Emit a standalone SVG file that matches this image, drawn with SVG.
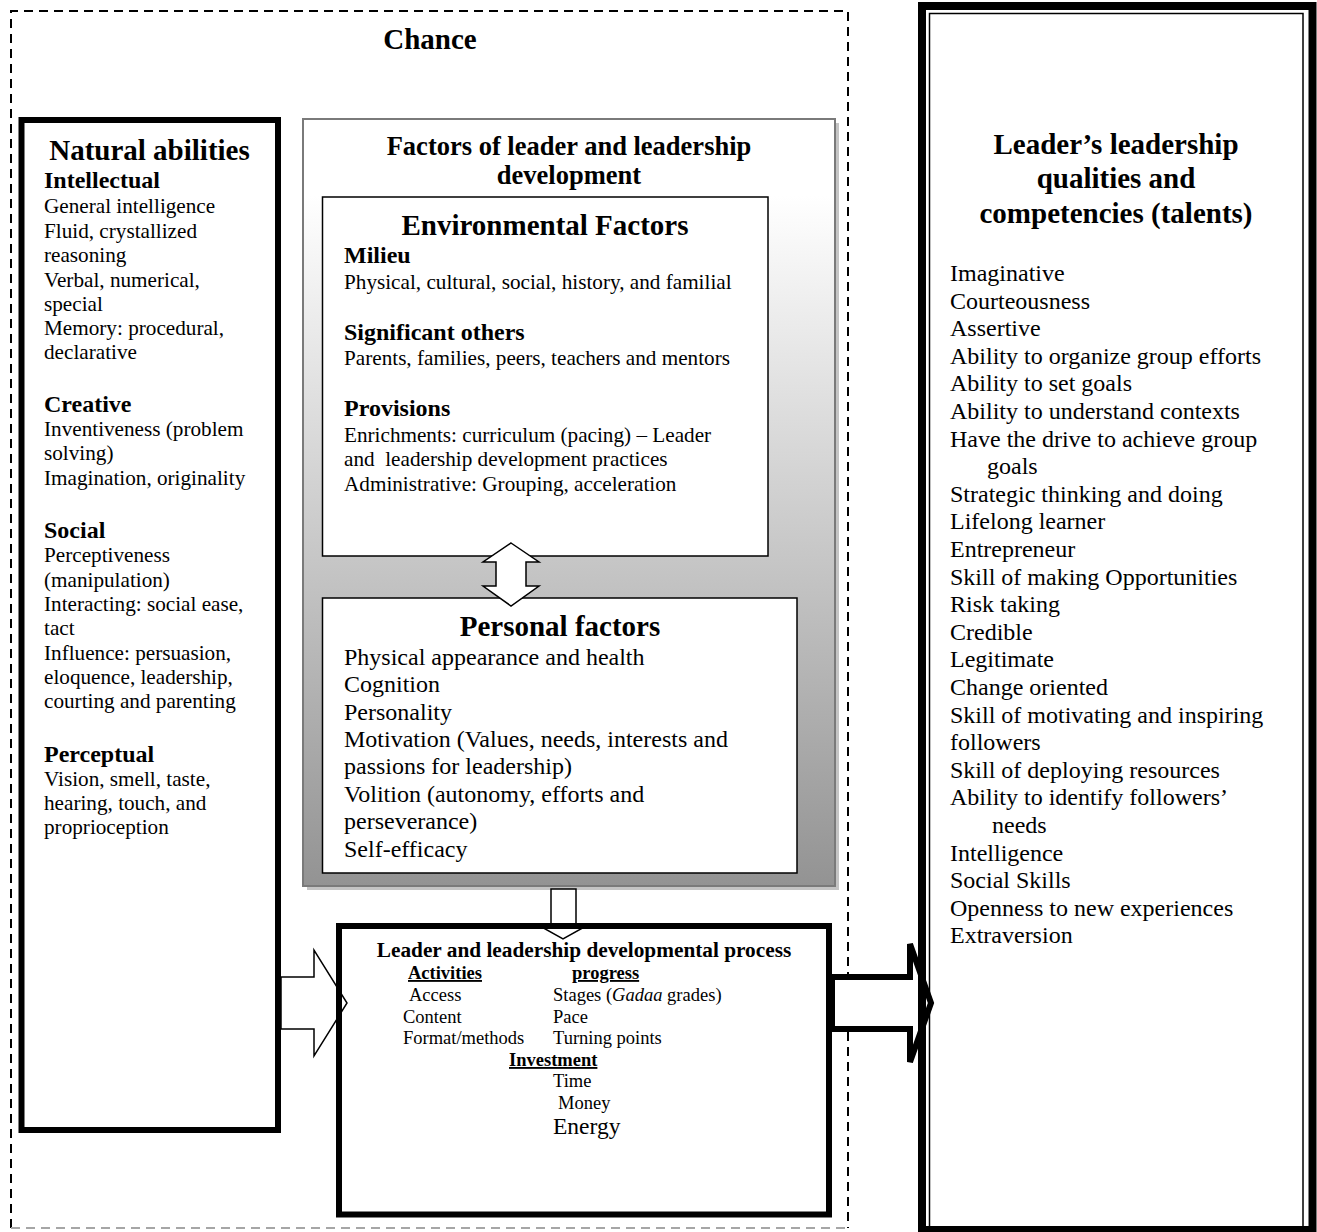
<svg xmlns="http://www.w3.org/2000/svg" width="1317" height="1232" viewBox="0 0 1317 1232">
<style>
text{font-family:"Liberation Serif","Times New Roman",serif;fill:#000}
.h{font-size:29px;font-weight:bold}
.ft{font-size:26.5px;font-weight:bold}
.s{font-size:24px;font-weight:bold}
.n{font-size:21.2px}
.l{font-size:24px}
.pt{font-size:21.3px;font-weight:bold}
.pb{font-size:18.5px;font-weight:bold;text-decoration:underline}
.p{font-size:18.5px}
.c{text-anchor:middle}
.arrow{fill:#fff;stroke:#000;stroke-width:1.5;stroke-linejoin:miter}
</style>
<defs>
<linearGradient id="grad" x1="0" y1="0" x2="0" y2="1">
<stop offset="0" stop-color="#ffffff"/>
<stop offset="0.1" stop-color="#ffffff"/>
<stop offset="1" stop-color="#939393"/>
</linearGradient>
</defs>
<rect width="1317" height="1232" fill="#fff"/>

<g id="chance">
<path d="M11,1228 V11 H848 V1228" fill="none" stroke="#000" stroke-width="2" stroke-dasharray="9 6"/>
<line x1="11" y1="1228" x2="848" y2="1228" stroke="#a6a6a6" stroke-width="2" stroke-dasharray="9 6"/>
<text class="h c" x="430" y="49">Chance</text>
</g>

<g id="factors">
<rect x="307" y="123" width="532" height="767" fill="#c4c4c4"/>
<rect x="303" y="119" width="532" height="767" fill="url(#grad)" stroke="#7a7a7a" stroke-width="2"/>
<text class="ft c" x="569" y="155">Factors of leader and leadership</text>
<text class="ft c" x="569" y="184">development</text>
</g>

<g id="environmental">
<rect x="322.5" y="197" width="445.5" height="359" fill="#fff" stroke="#000" stroke-width="1.5"/>
<text class="h c" x="545" y="235">Environmental Factors</text>
<text class="s" x="344" y="263">Milieu</text>
<text class="n" x="344" y="289">Physical, cultural, social, history, and familial</text>
<text class="s" x="344" y="340">Significant others</text>
<text class="n" x="344" y="365">Parents, families, peers, teachers and mentors</text>
<text class="s" x="344" y="416">Provisions</text>
<text class="n" x="344" y="442">Enrichments: curriculum (pacing) – Leader</text>
<text class="n" x="344" y="466" xml:space="preserve">and  leadership development practices</text>
<text class="n" x="344" y="491">Administrative: Grouping, acceleration</text>
</g>

<g id="personal">
<rect x="322.5" y="598" width="474.5" height="275" fill="#fff" stroke="#000" stroke-width="1.5"/>
<text class="h c" x="560" y="636">Personal factors</text>
<text class="l" x="344" y="665">Physical appearance and health</text>
<text class="l" x="344" y="692">Cognition</text>
<text class="l" x="344" y="720">Personality</text>
<text class="l" x="344" y="747">Motivation (Values, needs, interests and</text>
<text class="l" x="344" y="774">passions for leadership)</text>
<text class="l" x="344" y="802">Volition (autonomy, efforts and</text>
<text class="l" x="344" y="829">perseverance)</text>
<text class="l" x="344" y="857">Self-efficacy</text>
</g>

<g id="connectors">
<polygon class="arrow" points="281,977 314,977 314,950 347,1003 314,1056 314,1029 281,1029"/>
<polygon class="arrow" points="551,889 576,889 576,925 588,925 563,939 538,925 551,925"/>
<polygon class="arrow" points="511,543 539,562 526,562 526,586 539,586 511,606 483,586 496,586 496,562 483,562"/>
<polygon class="arrow" style="stroke-width:6" points="832,977 910,977 910,944 931,1003 910,1062 910,1029 832,1029"/>
</g>

<g id="natural-abilities">
<rect x="21.5" y="120" width="256.5" height="1010" fill="none" stroke="#000" stroke-width="6"/>
<text class="h c" x="149.5" y="160">Natural abilities</text>
<text class="s" x="44" y="188">Intellectual</text>
<text class="n" x="44" y="213">General intelligence</text>
<text class="n" x="44" y="238">Fluid, crystallized</text>
<text class="n" x="44" y="262">reasoning</text>
<text class="n" x="44" y="287">Verbal, numerical,</text>
<text class="n" x="44" y="311">special</text>
<text class="n" x="44" y="335">Memory: procedural,</text>
<text class="n" x="44" y="359">declarative</text>
<text class="s" x="44" y="412">Creative</text>
<text class="n" x="44" y="436">Inventiveness (problem</text>
<text class="n" x="44" y="460">solving)</text>
<text class="n" x="44" y="485">Imagination, originality</text>
<text class="s" x="44" y="538">Social</text>
<text class="n" x="44" y="562">Perceptiveness</text>
<text class="n" x="44" y="587">(manipulation)</text>
<text class="n" x="44" y="611">Interacting: social ease,</text>
<text class="n" x="44" y="635">tact</text>
<text class="n" x="44" y="660">Influence: persuasion,</text>
<text class="n" x="44" y="684">eloquence, leadership,</text>
<text class="n" x="44" y="708">courting and parenting</text>
<text class="s" x="44" y="762">Perceptual</text>
<text class="n" x="44" y="786">Vision, smell, taste,</text>
<text class="n" x="44" y="810">hearing, touch, and</text>
<text class="n" x="44" y="834">proprioception</text>
</g>

<g id="process">
<rect x="339" y="926" width="490" height="288.5" fill="none" stroke="#000" stroke-width="6"/>
<text class="pt c" x="584" y="957">Leader and leadership developmental process</text>
<text class="pb" x="408" y="979">Activities</text>
<text class="pb" x="572" y="979">progress</text>
<text class="p" x="409" y="1001">Access</text>
<text class="p" x="553" y="1001">Stages (<tspan font-style="italic">Gadaa</tspan> grades)</text>
<text class="p" x="403" y="1023">Content</text>
<text class="p" x="553" y="1023">Pace</text>
<text class="p" x="403" y="1044">Format/methods</text>
<text class="p" x="553" y="1044">Turning points</text>
<text class="pb" x="509" y="1066">Investment</text>
<text class="p" x="553" y="1087">Time</text>
<text class="p" x="558" y="1109">Money</text>
<text class="p" x="553" y="1134" style="font-size:23.5px">Energy</text>
</g>

<g id="talents">
<rect x="922" y="6" width="390.5" height="1224" fill="none" stroke="#000" stroke-width="8"/>
<rect x="929.5" y="13.5" width="373.5" height="1213.5" fill="none" stroke="#000" stroke-width="1.5"/>
<text class="h c" x="1116" y="154">Leader’s leadership</text>
<text class="h c" x="1116" y="188">qualities and</text>
<text class="h c" x="1116" y="223">competencies (talents)</text>
<text class="l" x="950" y="281">Imaginative</text>
<text class="l" x="950" y="308.6">Courteousness</text>
<text class="l" x="950" y="336.2">Assertive</text>
<text class="l" x="950" y="363.8">Ability to organize group efforts</text>
<text class="l" x="950" y="391.4">Ability to set goals</text>
<text class="l" x="950" y="419">Ability to understand contexts</text>
<text class="l" x="950" y="446.6">Have the drive to achieve group</text>
<text class="l" x="987" y="474.2">goals</text>
<text class="l" x="950" y="501.8">Strategic thinking and doing</text>
<text class="l" x="950" y="529.4">Lifelong learner</text>
<text class="l" x="950" y="557">Entrepreneur</text>
<text class="l" x="950" y="584.6">Skill of making Opportunities</text>
<text class="l" x="950" y="612.2">Risk taking</text>
<text class="l" x="950" y="639.8">Credible</text>
<text class="l" x="950" y="667.4">Legitimate</text>
<text class="l" x="950" y="695">Change oriented</text>
<text class="l" x="950" y="722.6">Skill of motivating and inspiring</text>
<text class="l" x="950" y="750.2">followers</text>
<text class="l" x="950" y="777.8">Skill of deploying resources</text>
<text class="l" x="950" y="805.4">Ability to identify followers’</text>
<text class="l" x="992" y="833">needs</text>
<text class="l" x="950" y="860.6">Intelligence</text>
<text class="l" x="950" y="888.2">Social Skills</text>
<text class="l" x="950" y="915.8">Openness to new experiences</text>
<text class="l" x="950" y="943.4">Extraversion</text>
</g>
</svg>
